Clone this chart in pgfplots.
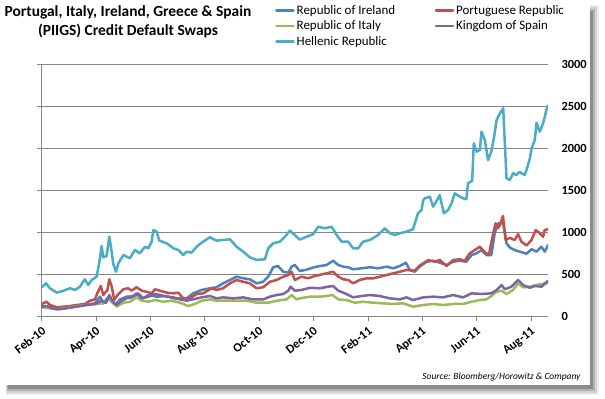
\documentclass[border=0pt]{standalone}
\usepackage{pgfplots}
\pgfplotsset{compat=1.18}
\usepackage{fontspec}
\setmainfont{Carlito}
\definecolor{cIre}{HTML}{4F81BD}
\definecolor{cPor}{HTML}{C0504D}
\definecolor{cIta}{HTML}{9BBB59}
\definecolor{cSpa}{HTML}{8064A2}
\definecolor{cGre}{HTML}{4BACC6}
\definecolor{axgray}{HTML}{868686}
\begin{document}
\begin{tikzpicture}[x=1bp,y=1bp]
\fill[white] (0,0) rectangle (605,398);
\fill[black!8] (6,3) rectangle (599,393);
\fill[black!18] (6,5) rectangle (597,391);
\fill[black!30] (7,7) rectangle (595,389);
\fill[black!45] (8,9) rectangle (593,387);
\fill[white] (0,13) rectangle (590,398);
\node[font=\bfseries\fontsize{15.5}{19}\selectfont] at (128,386) {Portugal, Italy, Ireland, Greece \& Spain};
\node[font=\bfseries\fontsize{15.5}{19}\selectfont] at (128,367) {(PIIGS) Credit Default Swaps};
\node[anchor=east, font=\itshape\fontsize{9.5}{11}\selectfont] at (584,21) {Source: Bloomberg/Horowitz \& Company};
\begin{axis}[
  at={(41.7bp,82bp)}, anchor=south west, scale only axis,
  width=506.3bp, height=252bp,
  xmin=0, xmax=18.42, ymin=0, ymax=3000,
  axis x line=none, axis y line*=right,
  axis line style={draw=none},
  ytick={0,500,...,3000},
  major tick length=0pt, tick style={draw=none},
  tick label style={font=\bfseries\fontsize{12.5}{14}\selectfont},
  yticklabel style={anchor=west, xshift=10bp},
  /pgf/number format/assume math mode=true,
  /pgf/number format/1000 sep={},
]
\end{axis}
\begin{axis}[
  at={(41.7bp,82bp)}, anchor=south west, scale only axis,
  width=506.3bp, height=252bp,
  xmin=0, xmax=18.42, ymin=0, ymax=3000,
  axis x line*=bottom, axis y line*=left,
  axis line style={-, draw=axgray, line width=0.8bp},
  ytick={0,500,...,3000}, yticklabels={},
  ymajorgrids, major grid style={draw=axgray, line width=0.8bp},
  xtick={0,1.978,3.956,5.935,7.913,9.891,11.869,13.847,15.825,17.804},
  xticklabels={Feb-10,Apr-10,Jun-10,Aug-10,Oct-10,Dec-10,Feb-11,Apr-11,Jun-11,Aug-11},
  tick align=outside, major tick length=5bp,
  tick style={draw=axgray, line width=0.8bp},
  tick label style={font=\bfseries\fontsize{12.5}{14}\selectfont},
  xticklabel style={rotate=38, anchor=north east},
  legend columns=2,
  legend cell align=left,
  legend style={at={(0.4608,1.242)}, anchor=north west, draw=none, fill=none,
    inner sep=0pt, row sep=1bp, column sep=0pt,
    font=\fontsize{13}{15}\selectfont},
  legend image code/.code={\draw[line width=2.5bp] (0bp,0bp) -- (17bp,0bp);},
  every axis plot/.append style={line width=2.5bp, line join=round, line cap=round},
]
\addplot[cIre] coordinates {
(0.00,119) (0.30,111) (0.55,92) (1.03,111) (1.57,131) (1.94,151) (2.12,230) (2.24,151)
(2.46,238) (2.67,131) (2.85,198) (3.09,230) (3.39,238) (3.51,270) (3.69,210) (3.88,250)
(4.18,230) (4.55,238) (4.79,210) (5.03,210) (5.27,210) (5.51,270) (5.82,310) (6.12,330)
(6.36,342) (6.60,389) (6.85,429) (7.09,468) (7.33,449) (7.57,437) (7.82,389) (8.06,408)
(8.24,468) (8.42,580) (8.60,595) (8.79,527) (8.97,516) (9.09,587) (9.21,607) (9.39,535)
(9.64,552) (9.88,578) (10.12,595) (10.36,607) (10.60,658) (10.79,607) (10.97,587) (11.15,580)
(11.33,556) (11.64,568) (11.94,580) (12.24,568) (12.55,587) (12.79,568) (13.03,595) (13.25,635)
(13.39,548) (13.57,527) (13.75,587) (14.00,646) (14.24,658) (14.48,635) (14.73,607) (14.97,646)
(15.21,658) (15.45,646) (15.64,726) (15.82,746) (16.00,786) (16.18,726) (16.36,726) (16.48,985)
(16.60,1103) (16.79,1103) (16.91,865) (17.03,815) (17.21,785) (17.39,766) (17.64,742) (17.82,795)
(18.00,766) (18.18,825) (18.30,766) (18.42,845)
};
\addlegendentry{\makebox[136bp][l]{Republic of Ireland}}
\addplot[cPor] coordinates {
(0.00,143) (0.18,170) (0.30,131) (0.55,103) (0.79,111) (1.03,119) (1.27,131) (1.57,143)
(1.76,182) (1.94,198) (2.02,270) (2.15,357) (2.24,250) (2.39,310) (2.46,437) (2.55,349)
(2.64,190) (2.76,250) (2.97,318) (3.15,330) (3.27,301) (3.45,342) (3.64,301) (3.82,289)
(4.00,270) (4.12,318) (4.30,301) (4.55,278) (4.79,270) (4.97,278) (5.15,210) (5.39,210)
(5.64,262) (5.88,270) (6.18,330) (6.36,310) (6.60,330) (6.85,389) (7.09,429) (7.33,408)
(7.57,389) (7.82,330) (8.06,342) (8.30,408) (8.55,429) (8.79,468) (8.97,488) (9.09,527)
(9.21,429) (9.45,468) (9.69,449) (9.88,470) (10.09,488) (10.36,508) (10.60,527) (10.79,468)
(10.97,437) (11.15,429) (11.33,389) (11.57,429) (11.82,449) (12.06,449) (12.30,468) (12.55,488)
(12.79,508) (13.03,527) (13.27,548) (13.57,540) (13.75,600) (14.06,665) (14.30,646) (14.48,667)
(14.73,595) (14.97,667) (15.21,675) (15.39,655) (15.57,746) (15.76,786) (15.94,825) (16.12,760)
(16.27,726) (16.39,925) (16.51,1103) (16.60,1044) (16.67,1083) (16.78,1190) (16.88,905) (17.03,930)
(17.21,905) (17.33,975) (17.45,885) (17.64,840) (17.82,905) (17.97,1024) (18.12,985) (18.24,944)
(18.30,1024) (18.42,1032)
};
\addlegendentry{Portuguese Republic}
\addplot[cIta] coordinates {
(0.00,103) (0.30,92) (0.55,80) (1.03,103) (1.57,131) (2.00,143) (2.24,151) (2.46,198)
(2.73,111) (2.97,158) (3.21,170) (3.45,222) (3.64,182) (3.88,170) (4.12,190) (4.42,170)
(4.73,182) (5.03,158) (5.33,119) (5.57,143) (5.82,182) (6.12,198) (6.36,182) (6.73,182)
(7.09,182) (7.45,182) (7.82,158) (8.24,158) (8.55,182) (8.91,198) (9.09,250) (9.27,198)
(9.39,210) (9.76,230) (10.12,230) (10.36,238) (10.58,250) (10.79,198) (11.09,190) (11.39,158)
(11.69,170) (12.06,158) (12.42,151) (12.79,143) (13.15,151) (13.51,111) (13.88,131) (14.24,143)
(14.60,131) (14.97,143) (15.33,143) (15.64,170) (15.94,190) (16.18,198) (16.36,238) (16.55,289)
(16.73,301) (16.91,262) (17.15,310) (17.33,389) (17.51,342) (17.76,349) (18.00,369) (18.42,395)
};
\addlegendentry{\makebox[136bp][l]{Republic of Italy}}
\addplot[cSpa] coordinates {
(0.00,111) (0.18,119) (0.36,92) (0.60,80) (0.91,92) (1.27,111) (1.64,131) (1.94,143)
(2.18,182) (2.34,158) (2.46,250) (2.58,170) (2.73,131) (2.91,182) (3.09,210) (3.27,222)
(3.45,270) (3.64,210) (3.88,230) (4.12,262) (4.30,250) (4.55,230) (4.79,222) (5.03,198)
(5.27,182) (5.51,198) (5.82,222) (6.12,238) (6.36,210) (6.60,222) (6.97,210) (7.33,222)
(7.69,198) (8.06,198) (8.30,230) (8.55,250) (8.79,262) (8.97,301) (9.05,349) (9.21,301)
(9.45,310) (9.76,336) (10.12,330) (10.42,349) (10.60,357) (10.79,301) (11.03,270) (11.33,222)
(11.64,238) (11.94,250) (12.30,238) (12.67,210) (13.03,198) (13.27,222) (13.51,190) (13.88,222)
(14.24,230) (14.60,222) (14.97,250) (15.33,222) (15.64,270) (16.00,262) (16.36,270) (16.55,310)
(16.73,369) (16.85,318) (17.09,349) (17.33,429) (17.51,369) (17.76,336) (17.94,357) (18.18,349)
(18.36,400) (18.42,420)
};
\addlegendentry{Kingdom of Spain}
\addplot[cGre] coordinates {
(0.00,342) (0.16,389) (0.30,330) (0.55,278) (0.79,301) (1.03,330) (1.21,310) (1.39,349)
(1.57,437) (1.69,369) (1.82,429) (2.00,468) (2.12,687) (2.18,833) (2.24,699) (2.36,714)
(2.46,944) (2.52,825) (2.60,627) (2.70,527) (2.79,627) (2.97,726) (3.21,687) (3.39,786)
(3.57,746) (3.76,825) (3.88,806) (4.00,885) (4.06,1024) (4.18,1004) (4.28,897) (4.55,865)
(4.79,806) (4.97,786) (5.15,726) (5.27,766) (5.45,754) (5.64,825) (5.82,873) (6.12,937)
(6.36,897) (6.60,905) (6.85,913) (7.09,825) (7.33,766) (7.57,699) (7.82,667) (8.12,675)
(8.24,806) (8.42,865) (8.67,885) (8.85,944) (9.03,1016) (9.21,964) (9.39,910) (9.64,944)
(9.88,975) (10.06,1063) (10.30,1044) (10.55,1063) (10.73,964) (10.91,885) (11.15,885) (11.33,806)
(11.51,806) (11.69,885) (11.94,905) (12.24,964) (12.48,1044) (12.67,985) (12.85,964) (13.03,985)
(13.27,1004) (13.51,1034) (13.69,1223) (13.82,1262) (13.88,1381) (13.94,1401) (14.12,1421) (14.24,1301)
(14.42,1401) (14.48,1440) (14.63,1223) (14.79,1262) (14.91,1341) (15.03,1460) (15.21,1421) (15.33,1401)
(15.45,1390) (15.51,1580) (15.66,1610) (15.72,2056) (15.82,1956) (15.94,1976) (16.00,2194) (16.12,2095)
(16.24,1857) (16.36,1960) (16.46,2135) (16.55,2333) (16.67,2413) (16.79,2473) (16.91,1639) (17.03,1619)
(17.15,1699) (17.27,1679) (17.39,1718) (17.45,1700) (17.57,1679) (17.64,1738) (17.76,1877) (17.82,1996)
(17.94,2095) (18.00,2300) (18.12,2194) (18.24,2294) (18.40,2500)
};
\addlegendentry{\makebox[136bp][l]{Hellenic Republic}}
\end{axis}
\end{tikzpicture}
\end{document}
